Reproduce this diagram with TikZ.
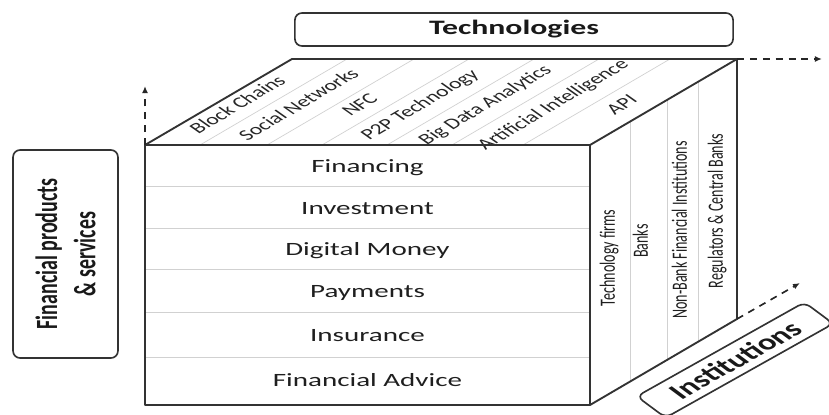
\documentclass[tikz,border=0pt]{standalone}
\usepackage{fontspec}
\setmainfont{Carlito}
\usetikzlibrary{arrows.meta,calc}

\tikzset{
  edge/.style={line width=1.6pt, draw=black!80},
  divider/.style={line width=0.6pt, draw=black!18},
  axisarrow/.style={line width=1.4pt, draw=black!85, dash pattern=on 6pt off 5pt,
    -{Latex[length=6pt,width=5pt]}},
  wide/.style={xscale=1.55, inner sep=0pt, text height=1.5ex, text depth=.4ex},
  rowlabel/.style={xscale=1.55, inner sep=0pt, anchor=base,
    font=\fontsize{16}{19}\selectfont, text=black!88},
  techlabel/.style={wide, rotate=42.4, font=\fontsize{13}{15}\selectfont, text=black!85},
  instlabel/.style={wide, rotate=90, font=\fontsize{12}{14}\selectfont, text=black!88},
  titlebox/.style={xscale=1.55, draw=black!80, line width=1.4pt, rounded corners=6pt,
    align=center, text=black!90, inner sep=2pt}
}

\begin{document}
\begin{tikzpicture}[x=0.03cm, y=-0.03cm, line join=round]
\useasboundingbox (0,0) rectangle (829,414);

% --- Corners of the cube ---
\coordinate (ftl) at (145,145);
\coordinate (ftr) at (590,145);
\coordinate (fbl) at (145,405);
\coordinate (fbr) at (590,405);
\coordinate (btl) at (292,59);
\coordinate (btr) at (737,59);
\coordinate (bbr) at (737,319);

% --- Front face: products and services ---
\foreach \y in {186,228,269,312,357}
  \draw[divider] (145,\y) -- (590,\y);
\foreach \y/\txt [count=\i] in {172/Financing, 214/Investment, 255/Digital Money,
    297/Payments, 341/Insurance, 386/Financial Advice}
  \node[rowlabel] (row\i) at (367.5,\y) {\txt};

% --- Top face: technologies ---
\foreach \x in {200,267,322,387,452,523}
  \draw[divider] (\x,145) -- ++(147,-86);
\foreach \a/\b/\txt [count=\i] in {145/200/Block Chains, 200/267/Social Networks,
    267/322/NFC, 322/387/P2P Technology, 387/452/Big Data Analytics,
    452/523/Artificial Intelligence, 523/590/API}
  \node[techlabel] (tech\i) at ({(\a+\b)/2+67},106) {\txt};

% --- Right face: institutions ---
\foreach \x in {630,667,698}
  \draw[divider] ($(ftr)!{(\x-590)/147}!(btr)$) -- ($(fbr)!{(\x-590)/147}!(bbr)$);
\node[instlabel] (inst1) at (610,258) {Technology firms};
\node[instlabel] (inst2) at (643,241) {Banks};
\node[instlabel] (inst3) at (682,230) {Non-Bank Financial Institutions};
\node[instlabel] (inst4) at (718,211) {Regulators \& Central Banks};

% --- Cube outline ---
\draw[edge] (ftl) -- (btl) -- (btr) -- (bbr) -- (fbr) -- (fbl) -- cycle;
\draw[edge] (ftl) -- (ftr) -- (fbr);
\draw[edge] (ftr) -- (btr);

% --- Axis titles ---
\node[titlebox, minimum width=8.48cm, minimum height=0.99cm,
  font=\fontsize{17.5}{20}\selectfont\bfseries] (techs) at (514,29.5) {Technologies};
\node[titlebox, rotate=90, minimum width=6.24cm, minimum height=2.03cm,
  font=\fontsize{17}{21}\selectfont\bfseries] (prods) at (65.5,254)
  {Financial products\\\& services};
\node[titlebox, rotate=41, minimum width=4.3cm, minimum height=0.85cm,
  font=\fontsize{19}{22}\selectfont\bfseries] (insts) at (735,360) {Institutions};

% --- Axis arrows ---
\coordinate (upend) at (145,86);
\coordinate (rightend) at (822,59);
\coordinate (depthend) at (800,283);
\draw[axisarrow] (ftl) -- (upend);
\draw[axisarrow] (btr) -- (rightend);
\draw[axisarrow] (bbr) -- (depthend);

\end{tikzpicture}
\end{document}
